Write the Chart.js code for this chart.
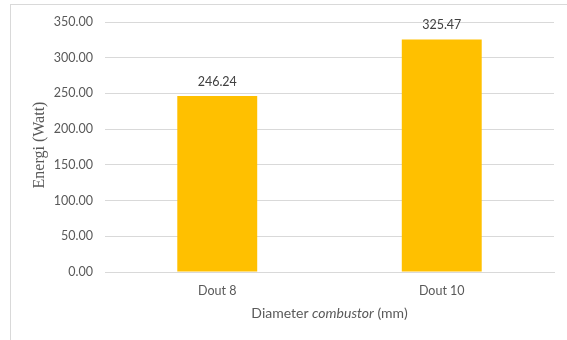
<!DOCTYPE html>
<html>
<head>
<meta charset="utf-8">
<script src="https://cdn.jsdelivr.net/npm/chart.js@4"></script>
<style>
  html, body { margin: 0; padding: 0; background: #fff; }
  #wrap { width: 567px; height: 340px; position: relative; }
</style>
</head>
<body>
<div id="wrap"><canvas id="c" width="567" height="340"></canvas></div>
<script>
const categories = ["Dout 8", "Dout 10"];
const energyWatt = [246.24, 325.47];
const yTickMax = 350;
const yTickStep = 50;

const labelFont = "Lato, 'Open Sans', sans-serif";

// frame, value labels and axis titles
const decorations = {
  id: "decorations",
  beforeDraw(chart) {
    const ctx = chart.ctx;
    ctx.save();
    ctx.fillStyle = "#fff";
    ctx.fillRect(0, 0, chart.width, chart.height);
    ctx.strokeStyle = "#d9d9d9";
    ctx.lineWidth = 1;
    ctx.strokeRect(10.5, 4.5, chart.width, chart.height);
    ctx.restore();
  },
  afterDatasetsDraw(chart) {
    const ctx = chart.ctx;
    const meta = chart.getDatasetMeta(0);
    ctx.save();
    ctx.font = "12.5px " + labelFont;
    ctx.fillStyle = "#404040";
    ctx.textAlign = "center";
    ctx.textBaseline = "bottom";
    meta.data.forEach((bar, i) => {
      ctx.fillText(energyWatt[i].toFixed(2), bar.x, bar.y - 8);
    });

    // x-axis title with italic middle word
    const area = chart.chartArea;
    const cx = (area.left + area.right) / 2;
    const parts = [
      { t: "Diameter ", f: "14px " + labelFont },
      { t: "combustor", f: "italic 14px " + labelFont },
      { t: " (mm)", f: "14px " + labelFont }
    ];
    let total = 0;
    parts.forEach(p => { ctx.font = p.f; p.w = ctx.measureText(p.t).width; total += p.w; });
    let x = cx - total / 2;
    ctx.fillStyle = "#595959";
    ctx.textAlign = "left";
    ctx.textBaseline = "middle";
    parts.forEach(p => { ctx.font = p.f; ctx.fillText(p.t, x, 313); x += p.w; });

    // y-axis title
    ctx.translate(40, 145);
    ctx.rotate(-Math.PI / 2);
    ctx.font = "16px 'Liberation Serif', 'Times New Roman', serif";
    ctx.textAlign = "center";
    ctx.textBaseline = "middle";
    ctx.fillText("Energi (Watt)", 0, 0);
    ctx.restore();
  }
};

new Chart(document.getElementById("c"), {
  type: "bar",
  data: {
    labels: categories,
    datasets: [{
      data: energyWatt,
      backgroundColor: "#FFC000",
      borderWidth: 0,
      categoryPercentage: 1,
      barPercentage: 0.356
    }]
  },
  options: {
    responsive: false,
    animation: false,
    layout: { padding: { left: 10, right: 13, top: 22, bottom: 0 } },
    plugins: { legend: { display: false }, tooltip: { enabled: false } },
    scales: {
      x: {
        grid: { display: false, drawTicks: false },
        border: { display: true, color: "#d9d9d9", width: 1 },
        ticks: { font: { family: labelFont, size: 12.5 }, color: "#595959", padding: 11 },
        afterFit(s) { s.height = 68; }
      },
      y: {
        min: 0,
        max: yTickMax,
        ticks: {
          stepSize: yTickStep,
          font: { family: labelFont, size: 12.5 },
          color: "#595959",
          padding: 12,
          callback: v => v.toFixed(2)
        },
        grid: { color: "#d9d9d9", drawTicks: false },
        border: { display: false },
        afterFit(s) { s.width = 95; }
      }
    }
  },
  plugins: [decorations]
});
</script>
</body>
</html>
